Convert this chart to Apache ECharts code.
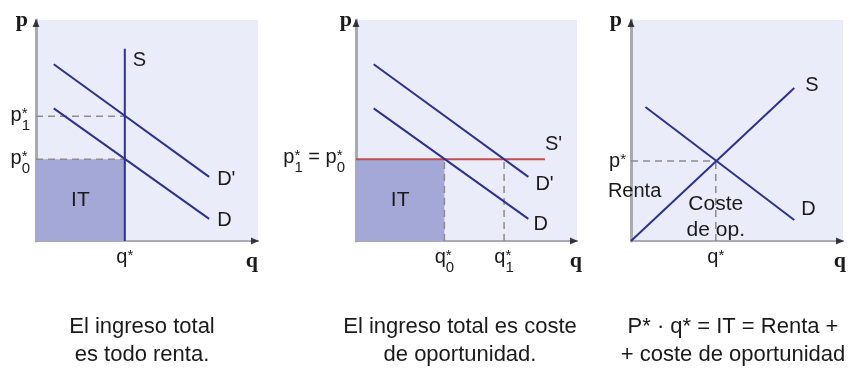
<!DOCTYPE html>
<html><head><meta charset="utf-8">
<script src="https://cdn.jsdelivr.net/npm/echarts@6/dist/echarts.min.js"></script>
<style>html,body{margin:0;padding:0;background:#fff}#c{width:849px;height:369px}</style>
</head><body><div id="c"></div>
<script>
// ---------- DATA ----------
// Panel 1: fixed supply, total income is all rent
const p1_S  = [[4.0, 0], [4.0, 8.7]];
const p1_D  = [[0.8, 6.0], [7.8, 1.0]];
const p1_Dp = [[0.8, 8.0], [7.8, 2.9]];
const p1_q = 4.0, p1_p0 = 3.7, p1_p1 = 5.65;
const p1_xTickValues = [p1_q];
const p1_xTickLabels = ['q^*'];
const p1_yTickValues = [p1_p1, p1_p0];
const p1_yTickLabels = ['p_1^*', 'p_0^*'];

// Panel 2: perfectly elastic supply, total income is opportunity cost
const p2_D  = [[0.8, 6.0], [7.8, 1.0]];
const p2_Dp = [[0.8, 8.0], [7.8, 2.9]];
const p2_Sp = [[0, 3.7], [8.55, 3.7]];
const p2_p = 3.7, p2_q0 = 4.0, p2_q1 = 6.7;
const p2_xTickValues = [p2_q0, p2_q1];
const p2_xTickLabels = ['q_0^*', 'q_1^*'];
const p2_yTickValues = [p2_p];
const p2_yTickLabels = ['p_1^* = p_0^*'];

// Panel 3: upward sloping supply
const p3_S = [[0, 0], [7.7, 6.92]];
const p3_D = [[0.68, 6.06], [7.7, 0.95]];
const p3_q = 4.0, p3_p = 3.62;
const p3_xTickValues = [p3_q];
const p3_xTickLabels = ['q^*'];
const p3_yTickValues = [p3_p];
const p3_yTickLabels = ['p^*'];

const curveLabels = { S: 'S', D: 'D', Dp: "D'", Sp: "S'" };
const captions = [
  'El ingreso total\nes todo renta.',
  'El ingreso total es coste\nde oportunidad.',
  'P* · q* = IT = Renta +\n+ coste de oportunidad'
];

// ---------- STYLE ----------
const X_MAX = 10, Y_MAX = 10;
const FONT = '"Liberation Sans", Arial, sans-serif';
const NAVY = '#2d3190', RED = '#c0504d', GRAY_DASH = '#8c8c8c';
const BG = '#ebecfa', FILL = '#a3a8d6', TXT = '#1a1a1a';
const GRIDS = [
  { left: 36,  top: 20, width: 222, height: 221 },
  { left: 356, top: 20, width: 221, height: 221 },
  { left: 631, top: 20, width: 221, height: 221 }
];

const chart = echarts.init(document.getElementById('c'), null, { renderer: 'canvas' });

function ln(g, data, color, width, extra) {
  return Object.assign({
    type: 'line', xAxisIndex: g, yAxisIndex: g, data: data, symbol: 'none',
    lineStyle: { color: color, width: width }, silent: true, z: 4, clip: false
  }, extra || {});
}
function dashed(g, data) {
  return ln(g, data, GRAY_DASH, 1.5, { lineStyle: { color: GRAY_DASH, width: 1.5, type: [7, 5] }, z: 3 });
}
function area(g, data) {
  return ln(g, data, FILL, 0, { lineStyle: { width: 0 }, areaStyle: { color: FILL, opacity: 1 }, z: 2 });
}
function endLab(text, distance, dy) {
  return { endLabel: { show: true, formatter: text, color: TXT, fontSize: 20, fontFamily: FONT, distance: distance, offset: [0, dy] } };
}
function arrows(g) {
  return {
    type: 'scatter', xAxisIndex: g, yAxisIndex: g, silent: true, z: 5, clip: false,
    symbol: 'triangle', symbolSize: [7, 8],
    itemStyle: { color: '#111' },
    data: [
      { value: [X_MAX, 0], symbolRotate: -90, symbolOffset: [-3, 0] },
      { value: [0, Y_MAX], symbolRotate: 0, symbolOffset: [0, 3] }
    ]
  };
}

const xAxes = [], yAxes = [];
const qGap = [0, 5, 3], pPad = [8, 4, 9];
GRIDS.forEach((g, i) => {
  xAxes.push({
    gridIndex: i, type: 'value', min: 0, max: X_MAX,
    axisLine: { show: true, lineStyle: { color: '#a9a9b4', width: 2 } },
    axisTick: { show: false }, axisLabel: { show: false }, splitLine: { show: false },
    name: 'q', nameLocation: 'end', nameGap: qGap[i],
    nameTextStyle: { fontFamily: '"Liberation Serif", serif', fontWeight: 'bold', fontSize: 22, color: TXT,
      align: 'right', verticalAlign: 'top', padding: [9, 0, 0, 0] }
  });
  yAxes.push({
    gridIndex: i, type: 'value', min: 0, max: Y_MAX,
    axisLine: { show: true, lineStyle: { color: '#a9a9b4', width: 3 } },
    axisTick: { show: false }, axisLabel: { show: false }, splitLine: { show: false },
    name: 'p', nameLocation: 'end', nameGap: 0,
    nameTextStyle: { fontFamily: '"Liberation Serif", serif', fontWeight: 'bold', fontSize: 22, color: TXT,
      align: 'right', verticalAlign: 'middle', padding: [0, pPad[i], 0, 0] }
  });
});

const series = [
  // Panel 1
  area(0, [[0, p1_p0], [p1_q, p1_p0]]),
  dashed(0, [[0, p1_p1], [p1_q, p1_p1]]),
  dashed(0, [[0, p1_p0], [p1_q, p1_p0]]),
  ln(0, p1_S, NAVY, 2, endLab(curveLabels.S, 8, 11.5)),
  ln(0, p1_Dp, NAVY, 2, endLab(curveLabels.Dp, 8, 2.5)),
  ln(0, p1_D, NAVY, 2, endLab(curveLabels.D, 8, 2)),
  arrows(0),
  // Panel 2
  area(1, [[0, p2_p], [p2_q0, p2_p]]),
  dashed(1, [[p2_q0, 0], [p2_q0, p2_p]]),
  dashed(1, [[p2_q1, 0], [p2_q1, p2_p]]),
  ln(1, p2_Sp, RED, 2, endLab(curveLabels.Sp, 0, -15)),
  ln(1, p2_Dp, NAVY, 2, endLab(curveLabels.Dp, 7, 7.5)),
  ln(1, p2_D, NAVY, 2, endLab(curveLabels.D, 5, 5.5)),
  arrows(1),
  // Panel 3
  dashed(2, [[0, p3_p], [p3_q, p3_p]]),
  dashed(2, [[p3_q, 0], [p3_q, p3_p]]),
  ln(2, p3_S, NAVY, 2, endLab(curveLabels.S, 11, -3)),
  ln(2, p3_D, NAVY, 2, endLab(curveLabels.D, 7, -10.5)),
  arrows(2)
];

chart.setOption({
  animation: false,
  grid: GRIDS.map(g => Object.assign({ show: true, backgroundColor: BG, borderWidth: 0, containLabel: false }, g)),
  xAxis: xAxes, yAxis: yAxes, series: series
});

// ---------- text labels placed through the axes' scales ----------
const mctx = document.createElement('canvas').getContext('2d');
function tw(t, size) { mctx.font = size + 'px "Liberation Sans"'; return mctx.measureText(t).width; }
function txt(t, x, y, size, align, extra) {
  return Object.assign({
    type: 'text', x: x, y: y, silent: true, z: 10,
    style: { text: t, fill: TXT, font: size + 'px ' + FONT, fontSize: size, fontFamily: FONT,
      align: align || 'left', textAlign: align || 'left', verticalAlign: 'middle', textVerticalAlign: 'middle' }
  }, extra || {});
}
function parseLabel(s) {
  const segs = []; let cur = null;
  for (let i = 0; i < s.length; i++) {
    const ch = s[i];
    if (ch === '_') cur.sub = s[++i];
    else if (ch === '^') cur.sup = s[++i];
    else {
      if (!cur || cur.sub || cur.sup) { cur = { t: '', sub: '', sup: '' }; segs.push(cur); }
      cur.t += ch;
    }
  }
  return segs;
}
const BASE = 20, SMALL = 15, SUP_DY = -1, SUB_DY = 11;
function labelEls(str, ax, yc, align) {
  const segs = parseLabel(str);
  const ws = segs.map(s => [tw(s.t, BASE), Math.max(s.sub ? tw(s.sub, SMALL) : 0, s.sup ? tw(s.sup, SMALL) : 0)]);
  const total = ws.reduce((a, w) => a + w[0] + w[1], 0);
  let x = align === 'right' ? ax - total : ax - total / 2;
  const els = [];
  segs.forEach((s, i) => {
    els.push(txt(s.t, x, yc, BASE));
    x += ws[i][0];
    if (s.sup) els.push(txt(s.sup, x, yc + SUP_DY, SMALL));
    if (s.sub) els.push(txt(s.sub, x, yc + SUB_DY, SMALL));
    x += ws[i][1];
  });
  return els;
}
const px = (g, x, y) => chart.convertToPixel({ gridIndex: g }, [x, y]);

const panels = [
  { g: 0, xv: p1_xTickValues, xl: p1_xTickLabels, yv: p1_yTickValues, yl: p1_yTickLabels, ym: 6, yOff: -1 },
  { g: 1, xv: p2_xTickValues, xl: p2_xTickLabels, yv: p2_yTickValues, yl: p2_yTickLabels, ym: 11, yOff: -2 },
  { g: 2, xv: p3_xTickValues, xl: p3_xTickLabels, yv: p3_yTickValues, yl: p3_yTickLabels, ym: 5, yOff: 0 }
];
let gfx = [];
panels.forEach(P => {
  P.xv.forEach((v, i) => {
    const pt = px(P.g, v, 0);
    gfx = gfx.concat(labelEls(P.xl[i], pt[0], pt[1] + 16, 'center'));
  });
  P.yv.forEach((v, i) => {
    const pt = px(P.g, 0, v);
    gfx = gfx.concat(labelEls(P.yl[i], pt[0] - P.ym, pt[1] + P.yOff, 'right'));
  });
});

// area annotations
let a = px(0, p1_q / 2, p1_p0 / 2); gfx.push(txt('IT', a[0], a[1], 21, 'center'));
a = px(1, p2_q0 / 2, p2_p / 2); gfx.push(txt('IT', a[0], a[1], 21, 'center'));
a = px(2, -1.09, p3_p * 0.62); gfx.push(txt('Renta', a[0], a[1], 20, 'left'));
a = px(2, p3_q, p3_p * 0.3);
gfx.push({ type: 'text', x: a[0], y: a[1], silent: true, z: 10,
  style: { text: 'Coste\nde op.', fill: TXT, font: '21px ' + FONT, fontSize: 21, fontFamily: FONT, lineHeight: 26,
    align: 'center', textAlign: 'center', verticalAlign: 'middle', textVerticalAlign: 'middle' } });

// captions
const capX = [142, 460, 733];
captions.forEach((c, i) => {
  gfx.push({ type: 'text', x: capX[i], y: 313, silent: true, z: 10,
    style: { text: c, fill: TXT, font: '22px ' + FONT, fontSize: 22, fontFamily: FONT, lineHeight: 28,
      align: 'center', textAlign: 'center', verticalAlign: 'top', textVerticalAlign: 'top' } });
});

chart.setOption({ graphic: { elements: gfx } });
</script>
</body></html>
